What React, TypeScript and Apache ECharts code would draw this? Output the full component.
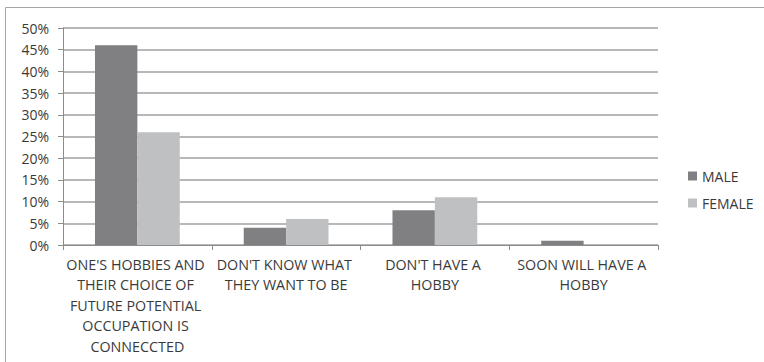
import React, { useEffect, useRef } from "react";
import * as echarts from "echarts";

const categories = [
  "ONE'S HOBBIES AND THEIR CHOICE OF FUTURE POTENTIAL OCCUPATION IS CONNECCTED",
  "DON'T KNOW WHAT THEY WANT TO BE",
  "DON'T HAVE A HOBBY",
  "SOON WILL HAVE A HOBBY",
];
const maleValues = [46, 4, 8, 1];
const femaleValues = [26, 6, 11, 0];
const seriesNames = ["MALE", "FEMALE"];

const FONT = "'Open Sans', 'Liberation Sans', sans-serif";
const TEXT = "#3a3a3a";

export default function App() {
  const ref = useRef<HTMLDivElement>(null);
  useEffect(() => {
    const chart = echarts.init(ref.current!, undefined, { renderer: "svg" });
    chart.setOption({
      animation: false,
      textStyle: { fontFamily: FONT },
      graphic: [
        {
          type: "rect",
          shape: { x: 5.5, y: 7.5, width: 820, height: 420 },
          style: { fill: "none", stroke: "#a6a6a6", lineWidth: 1 },
          silent: true,
        },
      ],
      grid: { left: 63, right: 106, top: 28, bottom: 117, containLabel: false },
      legend: {
        orient: "vertical",
        left: 683,
        top: 164,
        itemWidth: 9,
        itemHeight: 9,
        itemGap: 13,
        icon: "rect",
        textStyle: { color: TEXT, fontSize: 14, fontFamily: FONT },
        data: seriesNames,
      },
      xAxis: {
        type: "category",
        data: categories,
        axisLine: { lineStyle: { color: "#8c8c8c", width: 1 } },
        axisTick: { show: true, length: 5, lineStyle: { color: "#8c8c8c" } },
        axisLabel: {
          interval: 0,
          color: TEXT,
          fontSize: 14.3,
          fontFamily: FONT,
          width: 146,
          overflow: "break",
          lineHeight: 20.5,
          margin: 9,
          align: "center",
        },
      },
      yAxis: {
        type: "value",
        min: 0,
        max: 50,
        interval: 5,
        axisLine: { show: true, lineStyle: { color: "#8c8c8c", width: 1 } },
        axisTick: { show: true, length: 5, lineStyle: { color: "#8c8c8c" } },
        splitLine: { lineStyle: { color: "#a0a0a0", width: 1.5 } },
        axisLabel: {
          color: TEXT,
          fontSize: 14,
          fontFamily: FONT,
          margin: 14,
          formatter: "{value}%",
        },
      },
      series: [
        {
          name: seriesNames[0],
          type: "bar",
          data: maleValues,
          itemStyle: { color: "#808083" },
          barGap: "0%",
          barCategoryGap: "43%",
        },
        {
          name: seriesNames[1],
          type: "bar",
          data: femaleValues,
          itemStyle: { color: "#bfc0c2" },
          barGap: "0%",
          barCategoryGap: "43%",
        },
      ],
    });
    return () => chart.dispose();
  }, []);
  return (
    <div
      ref={ref}
      style={{ position: "fixed", left: 0, top: 0, width: 764, height: 362, background: "#fff" }}
    />
  );
}
